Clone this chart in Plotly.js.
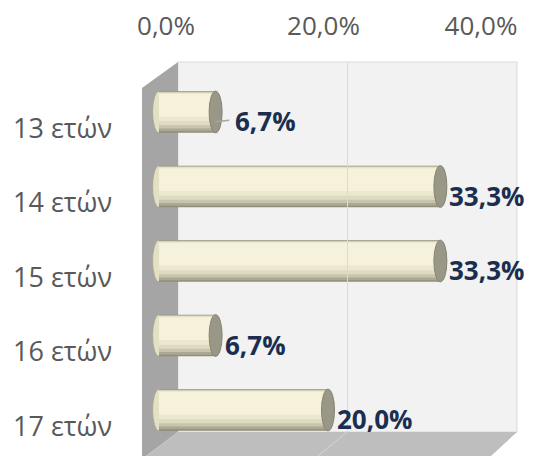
<!DOCTYPE html>
<html>
<head>
<meta charset="utf-8">
<script src="https://cdn.plot.ly/plotly-3.0.1.min.js"></script>
<style>html,body{margin:0;padding:0;background:#fff;}#chart{width:559px;height:456px;}</style>
</head>
<body>
<div id="chart"></div>
<script>
// ---- data ----
const categories = ["13 ετών", "14 ετών", "15 ετών", "16 ετών", "17 ετών"];
const values = [6.7, 33.3, 33.3, 6.7, 20.0];
const tickVals = [0, 20, 40];
const tickText = ["0,0%", "20,0%", "40,0%"];

// ---- helpers ----
const W = 559, H = 456;
const px = v => v / W;
const py = v => 1 - v / H;
const fmt = v => v.toFixed(1).replace('.', ',') + '%';

const FONT = "'Open Sans', 'Noto Sans', sans-serif";
const BARW = 0.56;
const PXPER = 8.45; // pixels per percent on the bar axis

function barTrace(offset, width, color) {
  return {
    type: 'bar', orientation: 'h',
    x: values, y: categories,
    width: width, offset: offset,
    marker: {color: color, line: {width: 0}},
    xaxis: 'x', yaxis: 'y',
    hoverinfo: 'skip', showlegend: false
  };
}

const traces = [
  barTrace(-0.28, 0.56, '#8F8D7B'),
  barTrace(-0.275, 0.535, '#ABA893'),
  barTrace(-0.268, 0.49, '#C9C5AD'),
  barTrace(-0.262, 0.44, '#DFDBC2'),
  barTrace(-0.255, 0.38, '#ECE8CF'),
  barTrace(-0.24, 0.30, '#F6F1DB'),
  // invisible helpers to create the tick-label axis and the back-wall grid axis
  {type: 'scatter', mode: 'markers', x: values, y: categories, xaxis: 'x2', yaxis: 'y',
   marker: {opacity: 0}, hoverinfo: 'skip', showlegend: false},
  {type: 'scatter', mode: 'markers', x: values, y: categories, xaxis: 'x3', yaxis: 'y3',
   marker: {opacity: 0}, hoverinfo: 'skip', showlegend: false}
];

function poly(pts) {
  return 'M ' + pts.map(p => px(p[0]) + ' ' + py(p[1])).join(' L ') + ' Z';
}

const shapes = [
  // back wall
  {type: 'rect', xref: 'paper', yref: 'paper', layer: 'below',
   x0: px(178), x1: px(517), y0: py(432), y1: py(62),
   fillcolor: '#F2F2F2', line: {color: '#D9D9D9', width: 1}},
  // left side wall
  {type: 'path', xref: 'paper', yref: 'paper', layer: 'below',
   path: poly([[142, 88], [178, 62], [178, 432], [146, 456], [142, 456]]),
   fillcolor: '#A5A5A5', line: {width: 0}},
  // floor
  {type: 'path', xref: 'paper', yref: 'paper', layer: 'below',
   path: poly([[178, 432], [517, 432], [491, 456], [146, 456]]),
   fillcolor: '#BEBEBE', line: {width: 0}},
  // floor grid line
  {type: 'line', xref: 'paper', yref: 'paper', layer: 'below',
   x0: px(347), y0: py(432), x1: px(318), y1: py(456),
   line: {color: '#D6D6D6', width: 1}}
];

const capW = 6.5 / PXPER;
categories.forEach((c, i) => {
  const v = values[i];
  // rounded back end at zero
  shapes.push({type: 'circle', xref: 'x', yref: 'y', layer: 'below',
    x0: -capW, x1: capW, y0: i - BARW / 2, y1: i + BARW / 2,
    fillcolor: '#E4E0C6', line: {color: '#A9A692', width: 1}});
  // front cap at the value
  shapes.push({type: 'circle', xref: 'x', yref: 'y', layer: 'above',
    x0: v - capW, x1: v + capW, y0: i - BARW / 2, y1: i + BARW / 2,
    fillcolor: '#999785', line: {color: '#858372', width: 1}});
});
// leader line for the first label
shapes.push({type: 'line', xref: 'x', yref: 'y', layer: 'above',
  x0: values[0], x1: values[0] + 1.6, y0: 0.13, y1: 0.11,
  line: {color: '#A6A6A6', width: 1.5}});

const annotations = [];
categories.forEach((c, i) => {
  annotations.push({
    xref: 'paper', yref: 'y', x: px(114), y: c, xanchor: 'right', yanchor: 'middle',
    yshift: -15, text: c, showarrow: false,
    font: {family: FONT, size: 27, color: '#595959'}
  });
  annotations.push({
    xref: 'x', yref: 'y', x: values[i], y: c, xanchor: 'left', yanchor: 'middle',
    xshift: i === 0 ? 17 : 7, yshift: -9, text: '<b>' + fmt(values[i]) + '</b>', showarrow: false,
    font: {family: FONT, size: 26, color: '#1B2E50'}
  });
});

const layout = {
  width: W, height: H,
  margin: {l: 0, r: 0, t: 0, b: 0},
  paper_bgcolor: '#FFFFFF', plot_bgcolor: 'rgba(0,0,0,0)',
  barmode: 'overlay', showlegend: false,
  font: {family: FONT},
  xaxis: {domain: [px(159 - 1.5 * PXPER), px(159 + 40 * PXPER)], range: [-1.5, 40], anchor: 'y',
          showgrid: false, zeroline: false, showticklabels: false, showline: false, ticks: ''},
  yaxis: {domain: [py(447.25), py(74.75)], range: [4.5, -0.5], type: 'category',
          showgrid: false, zeroline: false, showticklabels: false, showline: false, ticks: ''},
  xaxis2: {domain: [px(166), px(481)], range: [0, 40], anchor: 'free', position: py(40),
           side: 'top', tickvals: tickVals, ticktext: tickText, ticks: '',
           showgrid: false, zeroline: false, showline: false,
           tickfont: {family: FONT, size: 26, color: '#595959'}},
  xaxis3: {domain: [px(178), px(517)], range: [0, 40], anchor: 'y3', dtick: 20,
           showgrid: true, gridcolor: '#D9D9D9', gridwidth: 1,
           zeroline: false, showticklabels: false, showline: false, ticks: ''},
  yaxis3: {domain: [py(432), py(62)], type: 'category', showgrid: false, zeroline: false,
           showticklabels: false, showline: false, ticks: ''},
  shapes: shapes,
  annotations: annotations
};

Plotly.newPlot('chart', traces, layout, {staticPlot: true, displayModeBar: false});
</script>
</body>
</html>
